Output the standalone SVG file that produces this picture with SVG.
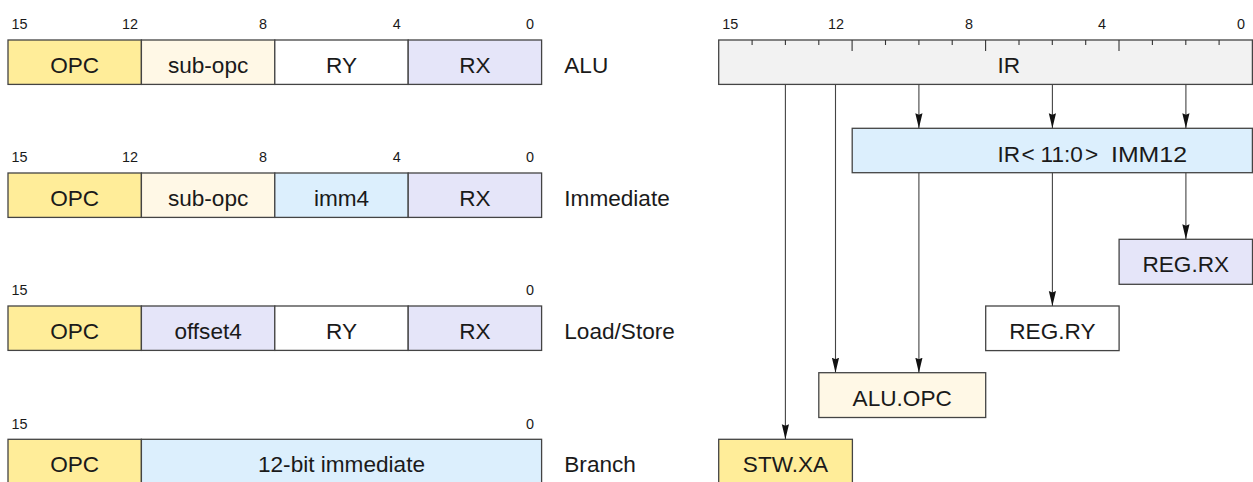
<svg xmlns="http://www.w3.org/2000/svg" width="1253" height="482" viewBox="0 0 1253 482">
<style>
text{font-family:"Liberation Sans",Arial,sans-serif;fill:#1a1a1a}
.f{stroke:#444;stroke-width:1.3}
.t{font-size:22.6px;text-anchor:middle}
.l{font-size:22.6px}
.b{font-size:14.4px;text-anchor:middle}
.opc{fill:#FFED99}
.sub{fill:#FFF8E6}
.rx{fill:#E5E5F9}
.imm{fill:#DCEFFD}
.wh{fill:#FFFFFF}
.ir{fill:#F2F2F2}
.c line{stroke:#444;stroke-width:1.1;fill:none}
.tk{stroke:#333;stroke-width:1.1}
</style>
<defs>
<marker id="ah" markerUnits="userSpaceOnUse" markerWidth="16" markerHeight="8" refX="15" refY="3.6" orient="auto">
<path d="M0,0 L15,3.6 L0,7.2 L1.5,3.6 Z" fill="#111"/>
</marker>
</defs>

<g id="fmt-alu">
<rect class="f opc" x="8" y="40" width="133.4" height="44.4"/>
<rect class="f sub" x="141.4" y="40" width="133.4" height="44.4"/>
<rect class="f wh" x="274.8" y="40" width="133.4" height="44.4"/>
<rect class="f rx" x="408.2" y="40" width="133.4" height="44.4"/>
<text class="t" x="74.7" y="72.7">OPC</text>
<text class="t" x="208.1" y="72.7">sub-opc</text>
<text class="t" x="341.5" y="72.7">RY</text>
<text class="t" x="474.9" y="72.7">RX</text>
<text class="b" x="19.5" y="29.3">15</text>
<text class="b" x="130" y="29.3">12</text>
<text class="b" x="263" y="29.3">8</text>
<text class="b" x="396.7" y="29.3">4</text>
<text class="b" x="530" y="29.3">0</text>
<text class="l" x="564.3" y="72.7">ALU</text>
</g>

<g id="fmt-imm">
<rect class="f opc" x="8" y="173" width="133.4" height="44.4"/>
<rect class="f sub" x="141.4" y="173" width="133.4" height="44.4"/>
<rect class="f imm" x="274.8" y="173" width="133.4" height="44.4"/>
<rect class="f rx" x="408.2" y="173" width="133.4" height="44.4"/>
<text class="t" x="74.7" y="205.7">OPC</text>
<text class="t" x="208.1" y="205.7">sub-opc</text>
<text class="t" x="341.5" y="205.7">imm4</text>
<text class="t" x="474.9" y="205.7">RX</text>
<text class="b" x="19.5" y="162.3">15</text>
<text class="b" x="130" y="162.3">12</text>
<text class="b" x="263" y="162.3">8</text>
<text class="b" x="396.7" y="162.3">4</text>
<text class="b" x="530" y="162.3">0</text>
<text class="l" x="564.3" y="205.7">Immediate</text>
</g>

<g id="fmt-ls">
<rect class="f opc" x="8" y="306" width="133.4" height="44.4"/>
<rect class="f rx" x="141.4" y="306" width="133.4" height="44.4"/>
<rect class="f wh" x="274.8" y="306" width="133.4" height="44.4"/>
<rect class="f rx" x="408.2" y="306" width="133.4" height="44.4"/>
<text class="t" x="74.7" y="338.7">OPC</text>
<text class="t" x="208.1" y="338.7">offset4</text>
<text class="t" x="341.5" y="338.7">RY</text>
<text class="t" x="474.9" y="338.7">RX</text>
<text class="b" x="19.5" y="295.3">15</text>
<text class="b" x="530" y="295.3">0</text>
<text class="l" x="564.3" y="338.7">Load/Store</text>
</g>

<g id="fmt-br">
<rect class="f opc" x="8" y="439.3" width="133.4" height="44.4"/>
<rect class="f imm" x="141.4" y="439.3" width="400.2" height="44.4"/>
<text class="t" x="74.7" y="472">OPC</text>
<text class="t" x="341.5" y="472">12-bit immediate</text>
<text class="b" x="19.5" y="428.6">15</text>
<text class="b" x="530" y="428.6">0</text>
<text class="l" x="564.3" y="472">Branch</text>
</g>

<g id="ir">
<rect class="f ir" x="718.7" y="40" width="533.7" height="44.4"/>
<g class="tk">
<line x1="752.1" y1="40" x2="752.1" y2="45"/>
<line x1="785.4" y1="40" x2="785.4" y2="45"/>
<line x1="818.8" y1="40" x2="818.8" y2="45"/>
<line x1="852.1" y1="40" x2="852.1" y2="51"/>
<line x1="885.5" y1="40" x2="885.5" y2="45"/>
<line x1="918.9" y1="40" x2="918.9" y2="45"/>
<line x1="952.2" y1="40" x2="952.2" y2="45"/>
<line x1="985.6" y1="40" x2="985.6" y2="51"/>
<line x1="1019" y1="40" x2="1019" y2="45"/>
<line x1="1052.3" y1="40" x2="1052.3" y2="45"/>
<line x1="1085.7" y1="40" x2="1085.7" y2="45"/>
<line x1="1119" y1="40" x2="1119" y2="51"/>
<line x1="1152.4" y1="40" x2="1152.4" y2="45"/>
<line x1="1185.8" y1="40" x2="1185.8" y2="45"/>
<line x1="1219.1" y1="40" x2="1219.1" y2="45"/>
</g>
<text class="l" x="997.4" y="72.7">IR</text>
<text class="b" x="730.3" y="29.3">15</text>
<text class="b" x="836" y="29.3">12</text>
<text class="b" x="969" y="29.3">8</text>
<text class="b" x="1102" y="29.3">4</text>
<text class="b" x="1241" y="29.3">0</text>
</g>

<g id="imm12">
<rect class="f imm" x="852.2" y="128.3" width="400.2" height="44.4"/>
<text class="l" y="161.6"><tspan x="997.4">IR</tspan><tspan x="1021.5">&lt;</tspan><tspan x="1040.5">11:0</tspan><tspan x="1085">&gt;</tspan><tspan x="1111" textLength="76" lengthAdjust="spacingAndGlyphs">IMM12</tspan></text>
</g>

<g id="reg-rx">
<rect class="f rx" x="1119.1" y="239.3" width="133.4" height="45"/>
<text class="t" x="1185.8" y="272.3">REG.RX</text>
</g>

<g id="reg-ry">
<rect class="f wh" x="985.7" y="306" width="133.4" height="44.6"/>
<text class="t" x="1052.4" y="339">REG.RY</text>
</g>

<g id="alu-opc">
<rect class="f sub" x="818.8" y="372.7" width="166.9" height="44.8"/>
<text class="t" x="902.2" y="406">ALU.OPC</text>
</g>

<g id="stw-xa">
<rect class="f opc" x="718.7" y="439.3" width="133.7" height="44.4"/>
<text class="t" x="785.5" y="471.7">STW.XA</text>
</g>

<g id="connectors" class="c">
<line x1="785.4" y1="84.4" x2="785.4" y2="439.3" marker-end="url(#ah)"/>
<line x1="835.5" y1="84.4" x2="835.5" y2="372.7" marker-end="url(#ah)"/>
<line x1="918.9" y1="84.4" x2="918.9" y2="128.3" marker-end="url(#ah)"/>
<line x1="1052.4" y1="84.4" x2="1052.4" y2="128.3" marker-end="url(#ah)"/>
<line x1="1185.9" y1="84.4" x2="1185.9" y2="128.3" marker-end="url(#ah)"/>
<line x1="918.9" y1="172.7" x2="918.9" y2="372.7" marker-end="url(#ah)"/>
<line x1="1052.4" y1="172.7" x2="1052.4" y2="306" marker-end="url(#ah)"/>
<line x1="1185.9" y1="172.7" x2="1185.9" y2="239.3" marker-end="url(#ah)"/>
</g>
</svg>
